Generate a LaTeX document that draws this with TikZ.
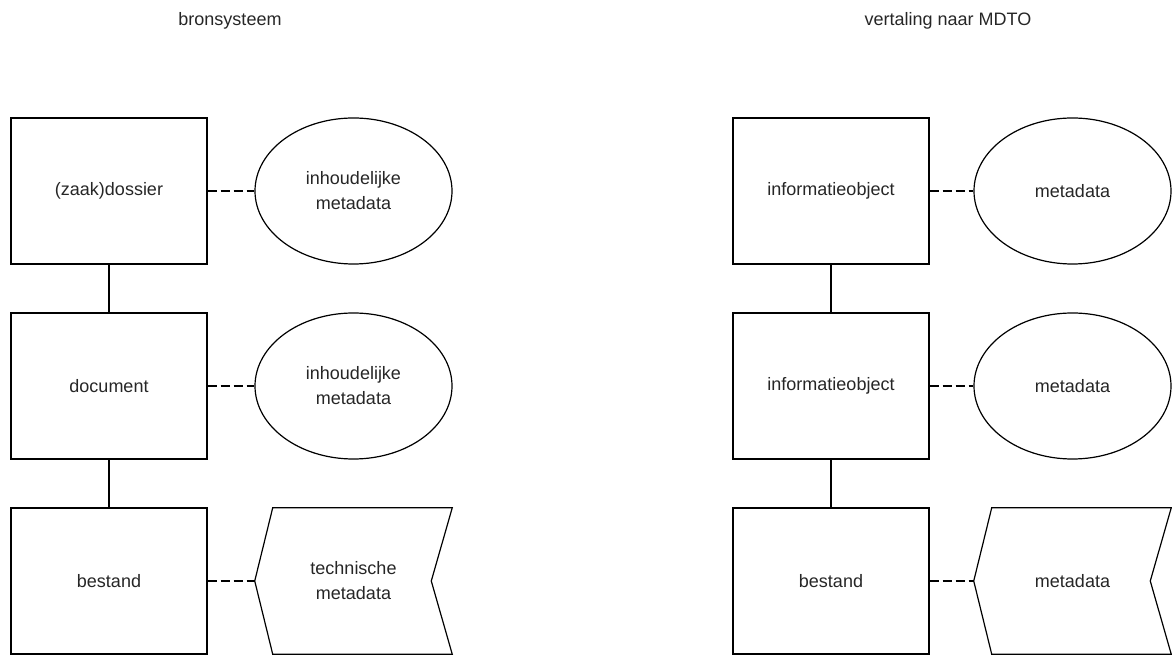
\documentclass[tikz,border=0pt]{standalone}
\usepackage{fontspec}
\setmainfont{Liberation Sans}
\usetikzlibrary{calc,shapes.geometric}
\tikzset{
  base/.style={inner sep=0pt, align=center, text=black!85,
    font=\fontsize{13.5}{18.75}\selectfont},
  objbox/.style={base, draw, line width=0.9pt, minimum width=147pt, minimum height=109.5pt},
  meta/.style={base, draw, ellipse, line width=0.9pt, minimum width=147.75pt, minimum height=109.5pt},
  chevframe/.style={base, rectangle, minimum width=147.75pt, minimum height=109.5pt},
  chevline/.style={draw, line width=0.9pt, line join=miter},
  title/.style={base},
  link/.style={draw, line width=0.9pt},
  dashlink/.style={draw, line width=0.9pt, dash pattern=on 6.75pt off 3pt},
}
\begin{document}
\begin{tikzpicture}[x=0.75pt, y=-0.75pt]
\useasboundingbox (0,0) rectangle (1172,655);
% titles
\node[title] (t1) at (230,21) {bronsysteem};
\node[title] (t2) at (948,21) {vertaling naar MDTO};
% left column
\node[objbox] (a1) at (109,191) {(zaak)dossier};
\node[objbox] (a2) at (109,386) {document};
\node[objbox] (a3) at (109,581) {bestand};
\node[meta] (m1) at (353.5,191) {inhoudelijke\\metadata};
\node[meta] (m2) at (353.5,386) {inhoudelijke\\metadata};
\node[chevframe] (m3) at (353.5,581) {technische\\metadata};
\path[chevline] (m3.west) -- ($(m3.north west)+(18,0)$) -- (m3.north east)
  -- ($(m3.east)+(-21,0)$) -- (m3.south east) -- ($(m3.south west)+(18,0)$) -- cycle;
% right column
\node[objbox] (b1) at (831,191) {informatieobject};
\node[objbox] (b2) at (831,386) {informatieobject};
\node[objbox] (b3) at (831,581) {bestand};
\node[meta] (n1) at (1072.5,191) {metadata};
\node[meta] (n2) at (1072.5,386) {metadata};
\node[chevframe] (n3) at (1072.5,581) {metadata};
\path[chevline] (n3.west) -- ($(n3.north west)+(18,0)$) -- (n3.north east)
  -- ($(n3.east)+(-21,0)$) -- (n3.south east) -- ($(n3.south west)+(18,0)$) -- cycle;
% connectors
\path[link] (a1) -- (a2);
\path[link] (a2) -- (a3);
\path[link] (b1) -- (b2);
\path[link] (b2) -- (b3);
\path[dashlink] (a1) -- (m1);
\path[dashlink] (a2) -- (m2);
\path[dashlink] (a3) -- (m3);
\path[dashlink] (b1) -- (n1);
\path[dashlink] (b2) -- (n2);
\path[dashlink] (b3) -- (n3);
\end{tikzpicture}
\end{document}
